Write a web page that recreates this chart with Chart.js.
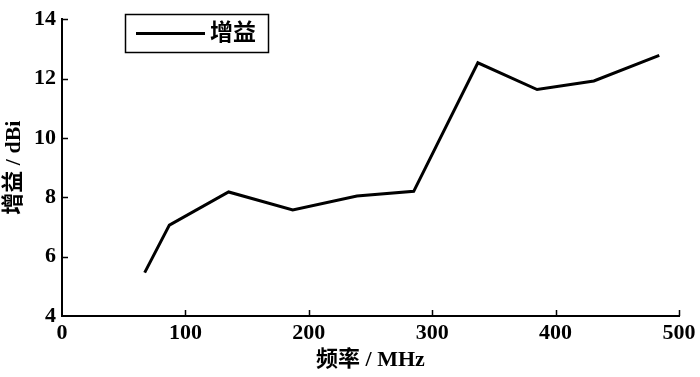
<!DOCTYPE html>
<html>
<head>
<meta charset="utf-8">
<script src="https://cdn.jsdelivr.net/npm/chart.js@4.4.1/dist/chart.umd.min.js"></script>
<style>
html,body{margin:0;padding:0;background:#fff;}
#wrap{width:700px;height:377px;position:relative;}
</style>
</head>
<body>
<div id="wrap"><canvas id="c" width="700" height="377"></canvas></div>
<script>
const freq = [67, 87, 135, 187, 239, 285, 337, 385, 431, 484];
const gain = [5.46, 7.06, 8.18, 7.57, 8.04, 8.2, 12.53, 11.63, 11.92, 12.78];
const seriesLabel = '增益';
const xTitle = '频率 / MHz';
const yTitle = '增益 / dBi';
const xTicks = [0, 100, 200, 300, 400, 500];
const yTicks = [4, 6, 8, 10, 12, 14];

const FONT = "'Liberation Serif', 'Noto Sans CJK SC', serif";

const inwardTicks = {
  id: 'inwardTicks',
  afterDraw(chart) {
    const ctx = chart.ctx;
    const xs = chart.scales.x, ys = chart.scales.y;
    const a = chart.chartArea;
    ctx.save();
    ctx.strokeStyle = '#000';
    ctx.lineWidth = 1.5;
    ctx.beginPath();
    xTicks.forEach(v => {
      if (v === 0) return;
      const px = Math.round(xs.getPixelForValue(v)) + 0.5;
      ctx.moveTo(px, a.bottom);
      ctx.lineTo(px, a.bottom - 6);
    });
    yTicks.forEach(v => {
      if (v === 4) return;
      const py = Math.round(ys.getPixelForValue(v)) + 0.5;
      ctx.moveTo(a.left, py);
      ctx.lineTo(a.left + 6, py);
    });
    ctx.stroke();
    // legend box
    const bx = 125, by = 14, bw = 143, bh = 38;
    ctx.lineWidth = 1.5;
    ctx.strokeRect(bx + 0.5, by + 0.5, bw, bh);
    ctx.lineWidth = 3;
    ctx.beginPath();
    ctx.moveTo(136, 33.5);
    ctx.lineTo(205, 33.5);
    ctx.stroke();
    ctx.fillStyle = '#000';
    ctx.font = "bold 23px " + FONT;
    ctx.textBaseline = 'middle';
    ctx.textAlign = 'left';
    ctx.fillText(chart.data.datasets[0].label, 210, 34);
    ctx.restore();
  }
};

new Chart(document.getElementById('c'), {
  type: 'line',
  data: {
    datasets: [{
      label: seriesLabel,
      data: freq.map((f, i) => ({x: f, y: gain[i]})),
      borderColor: '#000',
      borderWidth: 3,
      pointRadius: 0,
      tension: 0,
      fill: false
    }]
  },
  options: {
    responsive: false,
    animation: false,
    layout: {padding: {top: 17, right: 21, left: 0, bottom: 0}},
    plugins: {legend: {display: false}, tooltip: {enabled: false}},
    scales: {
      x: {
        type: 'linear', min: 0, max: 500,
        afterBuildTicks: s => { s.ticks = xTicks.map(v => ({value: v})); },
        afterFit: s => { s.height = 61; },
        border: {display: true, color: '#000', width: 2},
        grid: {drawOnChartArea: false, drawTicks: false},
        ticks: {color: '#000', padding: 4, maxRotation: 0, font: {family: FONT, size: 22, weight: 'bold'}},
        title: {display: true, text: xTitle, color: '#000', padding: {top: 0, bottom: 3}, font: {family: FONT, size: 22, weight: 'bold'}}
      },
      y: {
        type: 'linear', min: 4, max: 14,
        afterBuildTicks: s => { s.ticks = yTicks.map(v => ({value: v})); },
        afterFit: s => { s.width = 62; },
        border: {display: true, color: '#000', width: 2},
        grid: {drawOnChartArea: false, drawTicks: false},
        ticks: {color: '#000', padding: 6, font: {family: FONT, size: 22, weight: 'bold'}},
        title: {display: true, text: yTitle, color: '#000', padding: {top: 1, bottom: 4}, font: {family: FONT, size: 22, weight: 'bold'}}
      }
    }
  },
  plugins: [inwardTicks]
});
</script>
</body>
</html>
